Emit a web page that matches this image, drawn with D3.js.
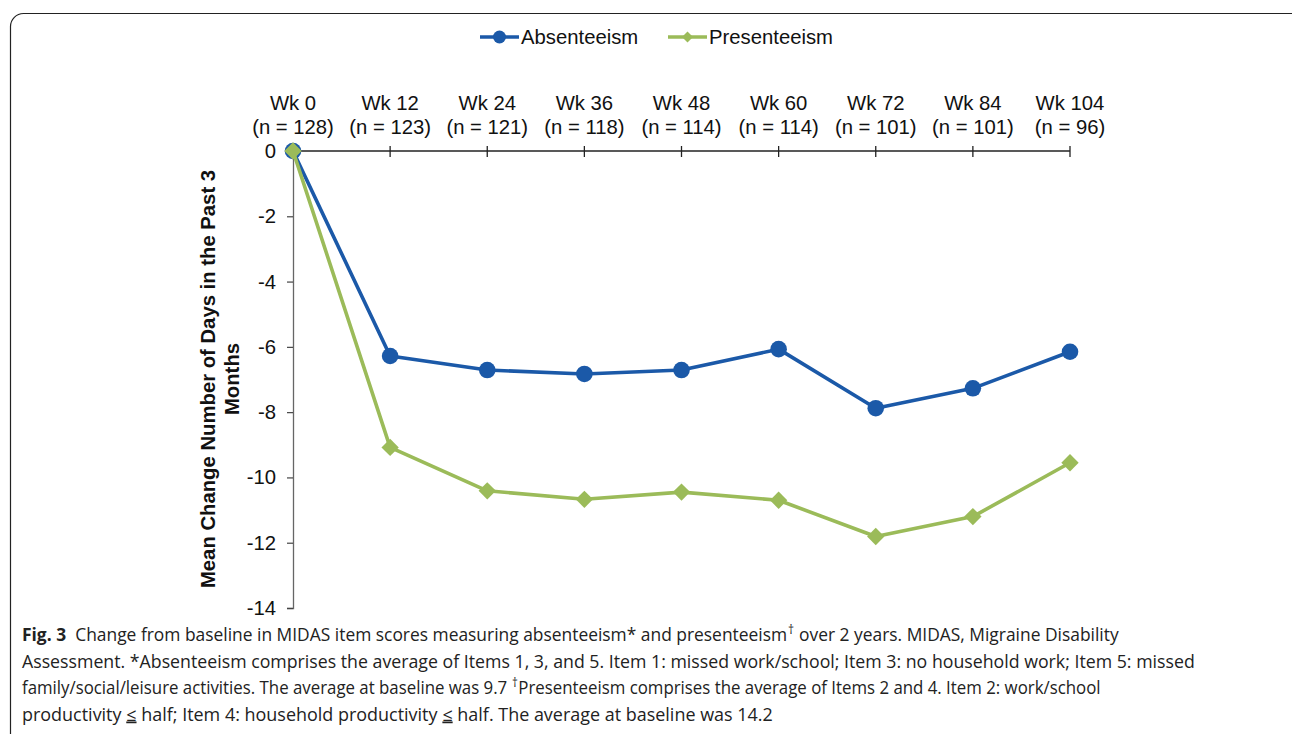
<!DOCTYPE html>
<html>
<head>
<meta charset="utf-8">
<script src="https://cdn.jsdelivr.net/npm/d3@7"></script>
<style>
  html, body { margin: 0; padding: 0; background: #fff; }
  svg { display: block; }
</style>
</head>
<body>
<svg id="chart" width="1292" height="734"></svg>
<script>
// Visit labels and sample sizes along the top axis
const weeks = ["Wk 0", "Wk 12", "Wk 24", "Wk 36", "Wk 48", "Wk 60", "Wk 72", "Wk 84", "Wk 104"];
const sampleSizes = ["(n = 128)", "(n = 123)", "(n = 121)", "(n = 118)", "(n = 114)", "(n = 114)", "(n = 101)", "(n = 101)", "(n = 96)"];

// Mean change from baseline in days (past 3 months)
const absenteeism = [0, -6.28, -6.71, -6.83, -6.71, -6.07, -7.88, -7.27, -6.15];
const presenteeism = [0, -9.08, -10.41, -10.67, -10.45, -10.70, -11.81, -11.20, -9.55];

const yTicks = [0, -2, -4, -6, -8, -10, -12, -14];

const seriesNames = ["Absenteeism", "Presenteeism"];
const seriesColors = ["#1b59a8", "#9bbb59"];

const svg = d3.select("#chart");

// Rounded frame around figure and caption
svg.append("rect")
  .attr("x", 10.5).attr("y", 13.5)
  .attr("width", 1295).attr("height", 735)
  .attr("rx", 13).attr("ry", 13)
  .attr("fill", "none").attr("stroke", "#222").attr("stroke-width", 1.2);

const x = d3.scalePoint().domain(weeks).range([293, 1070]);
const y = d3.scaleLinear().domain([-14, 0]).range([608, 151]);

const font = "'Liberation Sans', Arial, sans-serif";
const fs = 20.3;

// Y axis (left)
const yAxis = svg.append("g")
  .attr("transform", `translate(${x(weeks[0])},0)`)
  .call(d3.axisLeft(y).tickValues(yTicks).tickSize(6).tickPadding(11));
yAxis.select(".domain").attr("stroke", "#666").attr("stroke-width", 1.3);
yAxis.selectAll(".tick line").attr("stroke", "#444").attr("stroke-width", 1.2);
yAxis.selectAll(".tick text")
  .attr("font-family", font).attr("font-size", fs).attr("fill", "#111")
  .text(d => String(d));

// X axis along the zero line, labels above
const xAxisG = svg.append("g").attr("transform", `translate(0,${y(0)})`);
xAxisG.append("line")
  .attr("x1", x(weeks[0])).attr("x2", x(weeks[weeks.length - 1]))
  .attr("y1", 0).attr("y2", 0)
  .attr("stroke", "#222").attr("stroke-width", 1.3);
xAxisG.selectAll("line.tick")
  .data(weeks.slice(1))
  .join("line")
  .attr("class", "tick")
  .attr("x1", d => x(d)).attr("x2", d => x(d))
  .attr("y1", -5).attr("y2", 6)
  .attr("stroke", "#222").attr("stroke-width", 1.3);

svg.append("g").selectAll("text")
  .data(weeks)
  .join("text")
  .attr("x", d => x(d)).attr("y", 110)
  .attr("text-anchor", "middle")
  .attr("font-family", font).attr("font-size", fs).attr("fill", "#111")
  .text(d => d);
svg.append("g").selectAll("text")
  .data(sampleSizes)
  .join("text")
  .attr("x", (d, i) => x(weeks[i])).attr("y", 134)
  .attr("text-anchor", "middle")
  .attr("font-family", font).attr("font-size", fs).attr("fill", "#111")
  .text(d => d);

// Y axis title (two lines, bold, rotated)
const yTitle = svg.append("text")
  .attr("transform", "rotate(-90)")
  .attr("text-anchor", "middle")
  .attr("font-family", font).attr("font-size", fs).attr("font-weight", "bold").attr("fill", "#111");
yTitle.append("tspan").attr("x", -379).attr("y", 215).text("Mean Change Number of Days in the Past 3");
yTitle.append("tspan").attr("x", -379).attr("y", 239).text("Months");

// Series lines and markers
const line = d3.line().x((d, i) => x(weeks[i])).y(d => y(d));

[absenteeism, presenteeism].forEach((vals, s) => {
  const g = svg.append("g");
  g.append("path")
    .datum(vals)
    .attr("d", line)
    .attr("fill", "none")
    .attr("stroke", seriesColors[s])
    .attr("stroke-width", 3.6)
    .attr("stroke-linejoin", "round");
  if (s === 0) {
    g.selectAll("circle").data(vals).join("circle")
      .attr("cx", (d, i) => x(weeks[i])).attr("cy", d => y(d))
      .attr("r", 8.3).attr("fill", seriesColors[s]);
  } else {
    g.selectAll("path.m").data(vals).join("path")
      .attr("class", "m")
      .attr("d", d3.symbol().type(d3.symbolSquare).size(150))
      .attr("transform", (d, i) => `translate(${x(weeks[i])},${y(d)}) rotate(45)`)
      .attr("fill", seriesColors[s]);
  }
});

// Legend
const legendItems = [
  { name: seriesNames[0], color: seriesColors[0], x0: 480, type: "circle" },
  { name: seriesNames[1], color: seriesColors[1], x0: 668, type: "diamond" }
];
legendItems.forEach(it => {
  const g = svg.append("g");
  g.append("line")
    .attr("x1", it.x0).attr("x2", it.x0 + 39)
    .attr("y1", 37).attr("y2", 37)
    .attr("stroke", it.color).attr("stroke-width", 3.6);
  if (it.type === "circle") {
    g.append("circle").attr("cx", it.x0 + 19.5).attr("cy", 37).attr("r", 6.5).attr("fill", it.color);
  } else {
    g.append("path")
      .attr("d", d3.symbol().type(d3.symbolSquare).size(60))
      .attr("transform", `translate(${it.x0 + 19.5},37) rotate(45)`)
      .attr("fill", it.color);
  }
  g.append("text")
    .attr("x", it.x0 + 41).attr("y", 44)
    .attr("font-family", font).attr("font-size", fs).attr("fill", "#111")
    .text(it.name);
});

// Figure caption: each line is a row of text segments, squeezed to its width
const capFont = "'Open Sans', Lato, sans-serif";
const capLines = [
  [{ t: "Fig. 3", b: true }, { t: "\u00a0 Change from baseline in MIDAS item scores measuring absenteeism* and presenteeism" }, { t: "†", sup: true }, { t: " over 2 years. MIDAS, Migraine Disability" }],
  [{ t: "Assessment. *Absenteeism comprises the average of Items 1, 3, and 5. Item 1: missed work/school; Item 3: no household work; Item 5: missed" }],
  [{ t: "family/social/leisure activities. The average at baseline was 9.7 " }, { t: "†", sup: true }, { t: "Presenteeism comprises the average of Items 2 and 4. Item 2: work/school" }],
  [{ t: "productivity " }, { t: "≤", u: true }, { t: " half; Item 4: household productivity " }, { t: "≤", u: true }, { t: " half. The average at baseline was 14.2" }]
];
const capWidths = [1097, 1174, 1079, 751];
capLines.forEach((parts, li) => {
  const row = svg.append("g");
  let cx = 0;
  parts.forEach(p => {
    const t = row.append("text")
      .attr("x", cx)
      .attr("y", p.sup ? -7 : 0)
      .attr("font-family", capFont)
      .attr("font-size", p.sup ? 12 : 17.5)
      .attr("font-weight", p.b ? "bold" : "normal")
      .attr("fill", "#222")
      .style("white-space", "pre")
      .text(p.t);
    if (p.u) t.attr("text-decoration", "underline");
    cx += t.node().getComputedTextLength() + (p.sup ? 0.5 : 0);
  });
  const sx = capWidths[li] / cx;
  row.attr("transform", `translate(22,${641 + li * 26.5}) scale(${sx},1)`);
});
</script>
</body>
</html>
